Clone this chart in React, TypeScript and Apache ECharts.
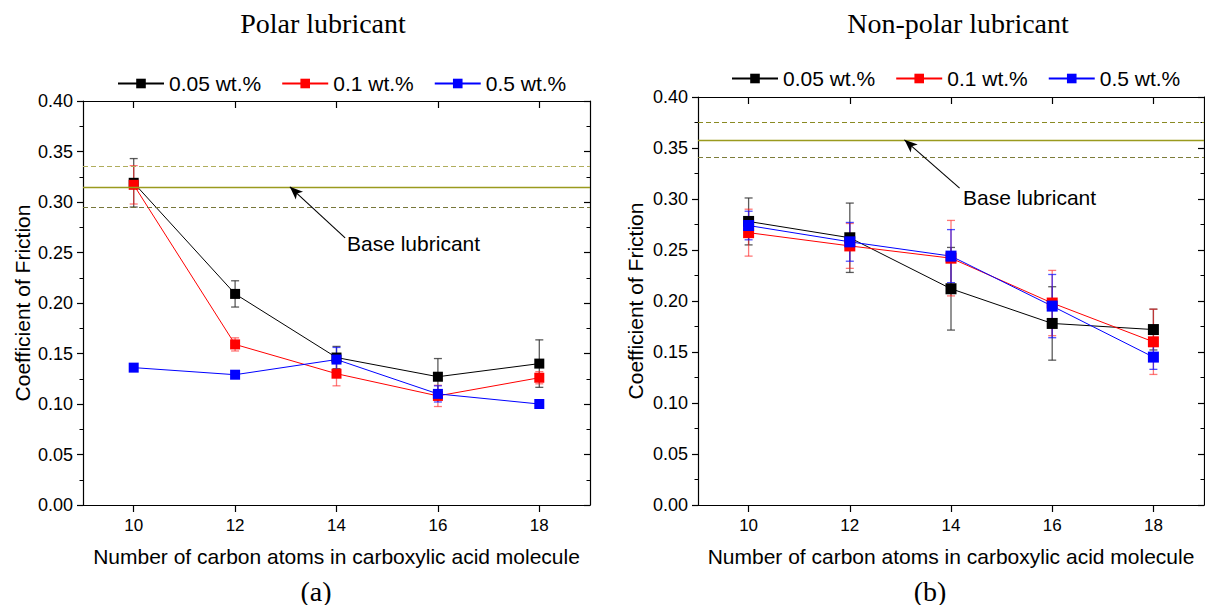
import React, { useEffect, useRef } from "react";
import * as echarts from "echarts";

const xTickValues = [10, 12, 14, 16, 18];
const carbonAtoms = [10, 12, 14, 16, 18];
const seriesNames = ["0.05 wt.%", "0.1 wt.%", "0.5 wt.%"];
const seriesColors = ["#000000", "#ff0000", "#0000ff"];
const errorColors = ["rgba(50,50,50,0.8)", "rgba(255,30,30,0.6)", "rgba(20,20,255,0.75)"];

// (a) Polar lubricant
const polar005 = [0.319, 0.209, 0.146, 0.127, 0.140];
const polar005Err = [0.024, 0.013, 0.011, 0.018, 0.0235];
const polar01 = [0.317, 0.159, 0.130, 0.108, 0.126];
const polar01Err = [0.019, 0.0065, 0.012, 0.0105, 0.006];
const polar05 = [0.136, 0.129, 0.144, 0.110, 0.100];
const polar05Err = [0.003, 0.003, 0.012, 0.008, 0.004];

// (b) Non-polar lubricant
const nonpolar005 = [0.278, 0.262, 0.212, 0.178, 0.172];
const nonpolar005Err = [0.023, 0.034, 0.0405, 0.036, 0.02];
const nonpolar01 = [0.267, 0.254, 0.242, 0.198, 0.160];
const nonpolar01Err = [0.023, 0.022, 0.037, 0.032, 0.032];
const nonpolar05 = [0.274, 0.258, 0.244, 0.195, 0.145];
const nonpolar05Err = [0.014, 0.019, 0.026, 0.031, 0.012];

const polarBase = 0.315;
const polarBaseErr = 0.02;
const nonpolarBase = 0.358;
const nonpolarBaseErr = 0.017;

// arrow annotation endpoints (data coords): [tailX, tailY, tipX]
const polarArrow = [14.17, 0.2644, 13.08];
const nonpolarArrow = [14.17, 0.3106, 13.08];

const SANS = "Liberation Sans";
const SERIF = "Liberation Serif";

function makeAxesX(gridIndex: number) {
  return [
    {
      type: "value",
      gridIndex,
      position: "bottom",
      min: 9,
      max: 19,
      name: "Number of carbon atoms in carboxylic acid molecule",
      nameLocation: "middle",
      nameGap: 41,
      nameTextStyle: { fontFamily: SANS, fontSize: 21, color: "#000" },
      axisLine: { show: true, onZero: false, lineStyle: { color: "#000", width: 1.2 } },
      axisTick: { show: true, length: 7, customValues: xTickValues, lineStyle: { color: "#000", width: 1.2 } },
      axisLabel: { show: true, customValues: xTickValues, margin: 12, fontFamily: SANS, fontSize: 17, color: "#000" },
      splitLine: { show: false },
    },
    {
      type: "value",
      gridIndex,
      position: "top",
      min: 9,
      max: 19,
      axisLine: { show: true, onZero: false, lineStyle: { color: "#000", width: 1.2 } },
      axisTick: { show: true, inside: true, length: 7, customValues: xTickValues, lineStyle: { color: "#000", width: 1.2 } },
      axisLabel: { show: false },
      splitLine: { show: false },
    },
  ];
}

function makeAxesY(gridIndex: number, nameGap: number) {
  return [
    {
      type: "value",
      gridIndex,
      position: "left",
      min: 0,
      max: 0.4,
      interval: 0.05,
      name: "Coefficient of Friction",
      nameLocation: "middle",
      nameGap,
      nameTextStyle: { fontFamily: SANS, fontSize: 21, color: "#000" },
      axisLine: { show: true, onZero: false, lineStyle: { color: "#000", width: 1.2 } },
      axisTick: { show: true, length: 6, lineStyle: { color: "#000", width: 1.2 } },
      minorTick: { show: true, splitNumber: 2, length: 3.5, lineStyle: { color: "#000", width: 1 } },
      axisLabel: {
        show: true,
        margin: 10,
        fontFamily: SANS,
        fontSize: 18,
        color: "#000",
        formatter: (v: number) => v.toFixed(2),
      },
      splitLine: { show: false },
      minorSplitLine: { show: false },
    },
    {
      type: "value",
      gridIndex,
      position: "right",
      min: 0,
      max: 0.4,
      interval: 0.05,
      axisLine: { show: true, onZero: false, lineStyle: { color: "#000", width: 1.2 } },
      axisTick: { show: true, inside: true, length: 6, lineStyle: { color: "#000", width: 1.2 } },
      minorTick: { show: true, splitNumber: 2, length: 3.5, lineStyle: { color: "#000", width: 1 } },
      axisLabel: { show: false },
      splitLine: { show: false },
      minorSplitLine: { show: false },
    },
  ];
}

function errorSeries(values: number[], errs: number[], color: string, axisIndex: number) {
  return {
    type: "custom",
    xAxisIndex: axisIndex,
    yAxisIndex: axisIndex,
    z: 1,
    silent: true,
    encode: { x: 0, y: [1, 2] },
    data: carbonAtoms.map((x, i) => [x, values[i] - errs[i], values[i] + errs[i]]),
    renderItem: (_params: any, api: any) => {
      const x = api.value(0);
      const lo = api.coord([x, api.value(1)]);
      const hi = api.coord([x, api.value(2)]);
      const cap = 4;
      const style = { stroke: color, lineWidth: 1.3 };
      return {
        type: "group",
        children: [
          { type: "line", shape: { x1: lo[0], y1: lo[1], x2: hi[0], y2: hi[1] }, style },
          { type: "line", shape: { x1: lo[0] - cap, y1: lo[1], x2: lo[0] + cap, y2: lo[1] }, style },
          { type: "line", shape: { x1: hi[0] - cap, y1: hi[1], x2: hi[0] + cap, y2: hi[1] }, style },
        ],
      };
    },
  };
}

function lineSeries(name: string, values: number[], color: string, axisIndex: number, size: number, markLine?: any) {
  const s: any = {
    type: "line",
    name,
    xAxisIndex: axisIndex,
    yAxisIndex: axisIndex,
    z: 3,
    symbol: "rect",
    symbolSize: size,
    showSymbol: true,
    data: carbonAtoms.map((x, i) => [x, values[i]]),
    lineStyle: { color, width: 1 },
    itemStyle: { color, borderWidth: 0 },
    emphasis: { disabled: true },
  };
  if (markLine) s.markLine = markLine;
  return s;
}

function baseMarkLine(base: number, err: number, arrow: number[], upperColor: string, lowerColor: string) {
  return {
    silent: true,
    precision: 4,
    symbol: ["none", "none"],
    label: { show: false },
    animation: false,
    data: [
      { yAxis: base, lineStyle: { color: "#9a9a1e", type: "solid", width: 1.3 } },
      { yAxis: base + err, lineStyle: { color: upperColor, type: [5, 3], width: 1.1 } },
      { yAxis: base - err, lineStyle: { color: lowerColor, type: [5, 3], width: 1.1 } },
      [
        { coord: [arrow[0], arrow[1]], symbol: "none", lineStyle: { color: "#000", type: "solid", width: 1.1 } },
        { coord: [arrow[2], base], symbol: "arrow", symbolSize: [8, 13] },
      ],
    ],
  };
}

export default function App() {
  const ref = useRef<HTMLDivElement>(null);
  useEffect(() => {
    if (!ref.current) return;
    const chart = echarts.init(ref.current, undefined, { renderer: "svg" });
    const legendCommon = {
      data: seriesNames,
      orient: "horizontal",
      itemWidth: 46,
      itemHeight: 12,
      itemGap: 20,
      selectedMode: false,
      textStyle: { fontFamily: SANS, fontSize: 21, color: "#000" },
    };
    chart.setOption({
      animation: false,
      backgroundColor: "#fff",
      grid: [
        { left: 83, top: 101, width: 507, height: 404 },
        { left: 698, top: 97, width: 506, height: 408 },
      ],
      legend: [
        { ...legendCommon, left: 112, top: 68 },
        { ...legendCommon, left: 726, top: 63 },
      ],
      xAxis: [...makeAxesX(0), ...makeAxesX(1)],
      yAxis: [...makeAxesY(0, 50), ...makeAxesY(1, 52)],
      series: [
        errorSeries(polar005, polar005Err, errorColors[0], 0),
        errorSeries(polar01, polar01Err, errorColors[1], 0),
        errorSeries(polar05, polar05Err, errorColors[2], 0),
        lineSeries(seriesNames[0], polar005, seriesColors[0], 0, 10,
          baseMarkLine(polarBase, polarBaseErr, polarArrow, "#b0ad5c", "#77773a")),
        lineSeries(seriesNames[1], polar01, seriesColors[1], 0, 10),
        lineSeries(seriesNames[2], polar05, seriesColors[2], 0, 10),
        errorSeries(nonpolar005, nonpolar005Err, errorColors[0], 2),
        errorSeries(nonpolar01, nonpolar01Err, errorColors[1], 2),
        errorSeries(nonpolar05, nonpolar05Err, errorColors[2], 2),
        lineSeries(seriesNames[0], nonpolar005, seriesColors[0], 2, 11,
          baseMarkLine(nonpolarBase, nonpolarBaseErr, nonpolarArrow, "#8a8a22", "#7d7d3a")),
        lineSeries(seriesNames[1], nonpolar01, seriesColors[1], 2, 11),
        lineSeries(seriesNames[2], nonpolar05, seriesColors[2], 2, 11),
      ],
      graphic: [
        { type: "text", x: 323, y: 23, style: { text: "Polar lubricant", fontFamily: SERIF, fontSize: 28, fill: "#000", textAlign: "center", textVerticalAlign: "middle" } },
        { type: "text", x: 958, y: 23, style: { text: "Non-polar lubricant", fontFamily: SERIF, fontSize: 28, fill: "#000", textAlign: "center", textVerticalAlign: "middle" } },
        { type: "text", x: 316, y: 591, style: { text: "(a)", fontFamily: SERIF, fontSize: 28, fill: "#000", textAlign: "center", textVerticalAlign: "middle" } },
        { type: "text", x: 930, y: 591, style: { text: "(b)", fontFamily: SERIF, fontSize: 28, fill: "#000", textAlign: "center", textVerticalAlign: "middle" } },
        { type: "text", x: 347, y: 243, style: { text: "Base lubricant", fontFamily: SANS, fontSize: 21, fill: "#000", textAlign: "left", textVerticalAlign: "middle" } },
        { type: "text", x: 963, y: 197, style: { text: "Base lubricant", fontFamily: SANS, fontSize: 21, fill: "#000", textAlign: "left", textVerticalAlign: "middle" } },
      ],
    });
    return () => chart.dispose();
  }, []);
  return <div ref={ref} style={{ position: "absolute", left: 0, top: 0, width: 1205, height: 605 }} />;
}
